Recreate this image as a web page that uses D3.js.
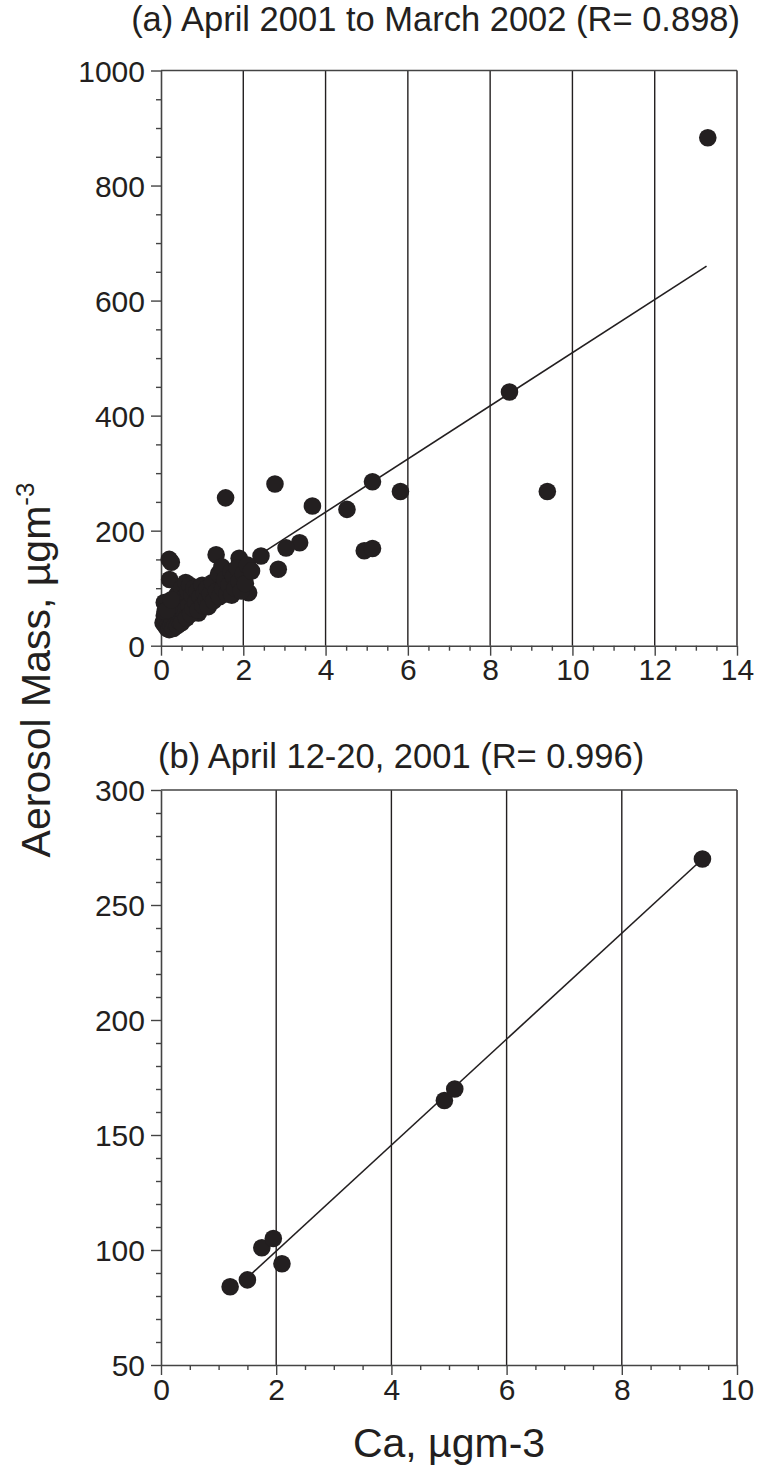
<!DOCTYPE html>
<html><head><meta charset="utf-8">
<script src="https://cdn.jsdelivr.net/npm/d3@7"></script>
<style>
html,body{margin:0;padding:0;background:#fff;}
svg text{font-family:"Liberation Sans",Arial,Helvetica,sans-serif;fill:#231f20;}
</style></head>
<body>
<svg id="chart" width="758" height="1474"></svg>
<script>
// ---------- DATA ----------
// Panel (a): April 2001 to March 2002
const topTitle = "(a) April 2001 to March 2002 (R= 0.898)";
const topCa = [0.2,0.25,0.21,0.08,1.57,2.77,3.68,4.52,5.14,5.82,4.94,5.14,3.37,3.04,2.85,2.43,1.34,1.9,2.13,0.91,8.47,9.39,13.29,
  0.05,0.08,0.1,0.12,0.15,0.18,0.2,0.22,0.25,0.28,0.3,0.32,0.35,0.38,0.4,0.42,0.45,0.48,0.5,
  0.3,0.35,0.4,0.45,0.5,0.55,0.58,0.6,0.62,0.65,0.68,0.7,0.72,0.75,0.78,0.8,
  0.85,0.88,0.9,0.95,1.0,1.02,1.05,1.1,1.12,1.15,1.2,1.25,1.28,
  1.35,1.4,1.42,1.48,1.5,1.55,1.6,1.65,1.7,1.72,1.76,1.8,1.85,1.9,1.95,2.0,2.05,2.1,2.2,
  0.1,0.2,0.15,0.25];
const topMass = [150,145,115,75,257,281,243,237,285,268,165,169,179,170,133,156,158,152,92,57,441,268,883,
  40,52,35,45,30,38,28,48,35,42,30,55,38,48,35,60,42,52,40,
  65,80,90,72,100,60,85,110,48,95,70,105,55,88,65,100,
  75,95,62,85,105,70,92,80,100,68,90,110,78,
  95,125,85,137,100,115,90,105,128,88,120,100,135,112,95,125,108,140,130,
  60,65,62,80];
const topFitCa = [0.1, 13.26];
const topFitMass = [52, 660];
const topXTicks = [0,2,4,6,8,10,12,14];
const topYTicks = [0,200,400,600,800,1000];

// Panel (b): April 12-20, 2001
const botTitle = "(b) April 12-20, 2001 (R= 0.996)";
const botCa = [1.2,1.5,1.75,1.95,2.1,4.92,5.1,9.4];
const botMass = [84,87,101,105,94,165,170,270];
const botFitCa = [1.5, 9.4];
const botFitMass = [88, 270];
const botXTicks = [0,2,4,6,8,10];
const botYTicks = [50,100,150,200,250,300];

const yAxisTitle = "Aerosol Mass, \u00B5gm";
const yAxisSup = "-3";
const xAxisTitle = "Ca, \u00B5gm-3";

// ---------- DRAW ----------
const ink = "#231f20";
const svg = d3.select("#chart");
const L = 161, R = 737;
const fmt = d3.format("d");

function panel(o){
  const g = svg.append("g");
  const x = d3.scaleLinear().domain(o.xd).range([L,R]);
  const y = d3.scaleLinear().domain(o.yd).range([o.bottom,o.top]);
  g.selectAll("line.grid").data(o.xt.filter(v=>v!==o.xd[0])).join("line")
    .attr("x1",d=>x(d)).attr("x2",d=>x(d)).attr("y1",o.bottom).attr("y2",o.top)
    .attr("stroke",ink).attr("stroke-width",1.4);
  g.append("line").attr("x1",L).attr("x2",R).attr("y1",o.top).attr("y2",o.top)
    .attr("stroke","#444").attr("stroke-width",1.6);
  const xMinor = d3.range(o.xd[0],o.xd[1]+1e-9,0.5).filter(v=>!o.xt.includes(v));
  const gxm = g.append("g").attr("transform",`translate(0,${o.bottom})`)
    .call(d3.axisBottom(x).tickValues(xMinor).tickSize(5).tickFormat(""));
  const gx = g.append("g").attr("transform",`translate(0,${o.bottom})`)
    .call(d3.axisBottom(x).tickValues(o.xt).tickFormat(fmt).tickSizeInner(10).tickSizeOuter(0).tickPadding(3));
  const yMinor = d3.range(o.yd[0],o.yd[1]+1e-9,o.ym).filter(v=>!o.yt.includes(v));
  const gym = g.append("g").attr("transform",`translate(${L},0)`)
    .call(d3.axisLeft(y).tickValues(yMinor).tickSize(5).tickFormat(""));
  const gy = g.append("g").attr("transform",`translate(${L},0)`)
    .call(d3.axisLeft(y).tickValues(o.yt).tickFormat(fmt).tickSizeInner(10).tickSizeOuter(0).tickPadding(6));
  [gxm,gx,gym,gy].forEach(a=>{
    a.selectAll("path.domain").attr("stroke","#444").attr("stroke-width",1.6);
    a.selectAll(".tick line").attr("stroke","#444").attr("stroke-width",1.4);
  });
  [gxm,gym].forEach(a=>a.select("path.domain").remove());
  gx.selectAll("text").attr("font-size",30).attr("dy","0.72em").attr("fill",ink)
    .style("font-family",'"Liberation Sans",Arial,sans-serif');
  gy.selectAll("text").attr("font-size",30).attr("dy","0.35em").attr("fill",ink)
    .style("font-family",'"Liberation Sans",Arial,sans-serif');
  const line = d3.line().x(d=>x(d[0])).y(d=>y(d[1]));
  g.append("path").datum(o.fx.map((v,i)=>[v,o.fy[i]])).attr("d",line)
    .attr("fill","none").attr("stroke",ink).attr("stroke-width",1.6);
  g.selectAll("circle").data(o.px.map((v,i)=>[v,o.py[i]])).join("circle")
    .attr("cx",d=>x(d[0])).attr("cy",d=>y(d[1])).attr("r",8.8).attr("fill",ink);
  g.append("text").attr("x",o.tx).attr("y",o.ty).attr("text-anchor",o.ta)
    .attr("font-size",o.tfs).text(o.title);
}

panel({xd:[0,14], yd:[0,1000], top:70.5, bottom:645.7, xt:topXTicks, yt:topYTicks, ym:50,
  px:topCa, py:topMass, fx:topFitCa, fy:topFitMass, title:topTitle, tx:740, ty:31, ta:"end", tfs:34.5});
panel({xd:[0,10], yd:[50,300], top:790, bottom:1365, xt:botXTicks, yt:botYTicks, ym:10,
  px:botCa, py:botMass, fx:botFitCa, fy:botFitMass, title:botTitle, tx:158, ty:768, ta:"start", tfs:34.5});

const yt = svg.append("text").attr("transform","translate(50,670) rotate(-90)")
  .attr("text-anchor","middle").attr("font-size",41);
yt.append("tspan").text(yAxisTitle);
yt.append("tspan").attr("dy",-16).attr("font-size",26).text(yAxisSup);
svg.append("text").attr("x",449).attr("y",1457).attr("text-anchor","middle")
  .attr("font-size",41).text(xAxisTitle);
</script>
</body></html>
